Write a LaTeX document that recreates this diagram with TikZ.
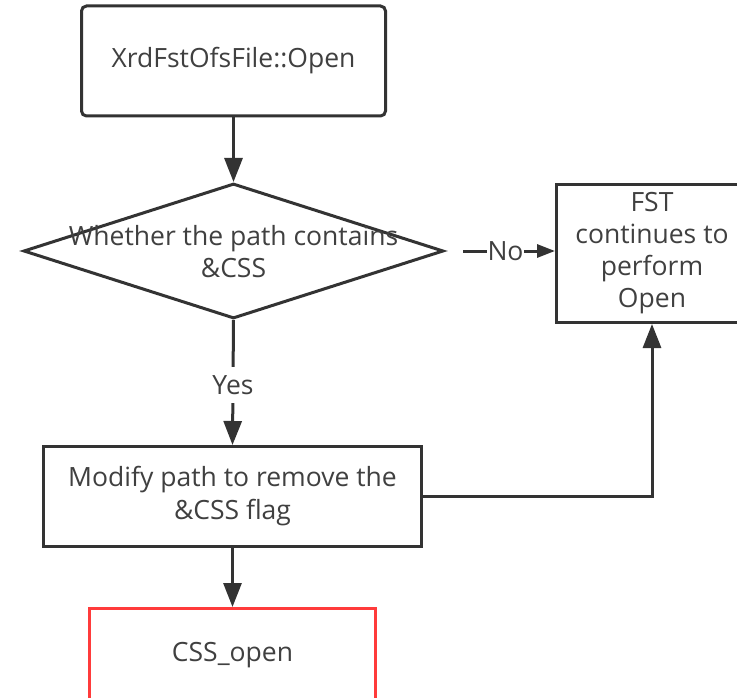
\documentclass[tikz,border=0pt]{standalone}
\usepackage{fontspec}
\setmainfont{Open Sans}
\usetikzlibrary{arrows.meta,shapes.geometric}
\definecolor{edgecol}{HTML}{333333}
\definecolor{txtcol}{HTML}{404040}
\definecolor{hilite}{HTML}{FF3B3B}
\tikzset{
  every node/.style={text=txtcol, font=\fontsize{26.5}{32}\selectfont},
  box/.style={draw=edgecol, line width=3pt, fill=white, inner sep=0pt, align=center},
  decision/.style={diamond, draw=edgecol, line width=3pt, fill=white, inner sep=0pt},
  flow/.style={draw=edgecol, line width=3pt, -{Triangle[length=24pt,width=18pt]}},
  smallflow/.style={draw=edgecol, line width=3pt, -{Triangle[length=18pt,width=13pt]}},
  lbl/.style={fill=white, inner sep=1pt}
}
\begin{document}
\begin{tikzpicture}[x=1pt,y=-1pt]
\useasboundingbox (0,0) rectangle (737,698);
\clip (0,0) rectangle (737,698);
\fill[white] (0,0) rectangle (737,698);

% process boxes
\node[box, rounded corners=5pt, minimum width=304pt, minimum height=110pt] (start) at (233.5,61) {XrdFstOfsFile::Open};
\node[decision, minimum width=420pt, minimum height=135pt] (dec) at (233.5,251) {};
\node[align=center] (dectxt) at (233.5,252) {Whether the path contains\\\&CSS};
\node[box, minimum width=191pt, minimum height=138pt] (fst) at (652,253.5) {FST\\continues to\\perform\\Open};
\node[box, minimum width=378pt, minimum height=100pt, font=\fontsize{26.5}{33}\selectfont] (modify) at (232.5,496.5) {Modify path to remove the\\\&CSS flag};
\node[box, draw=hilite, minimum width=286pt, minimum height=93pt] (cssopen) at (232.5,655) {CSS\_open};

% connectors
\draw[flow] (start.south) -- (dec.north);
\draw[smallflow, shorten <=18pt] (dec.east) -- (fst.west |- dec.east) node[lbl, pos=0.55] {No};
\draw[flow] (dec.south) -- (modify.north) node[lbl, pos=0.52, inner sep=8pt] {Yes};
\draw[flow] (modify.east) -| (fst.south);
\draw[flow] (modify.south) -- (cssopen.north);
\end{tikzpicture}
\end{document}
